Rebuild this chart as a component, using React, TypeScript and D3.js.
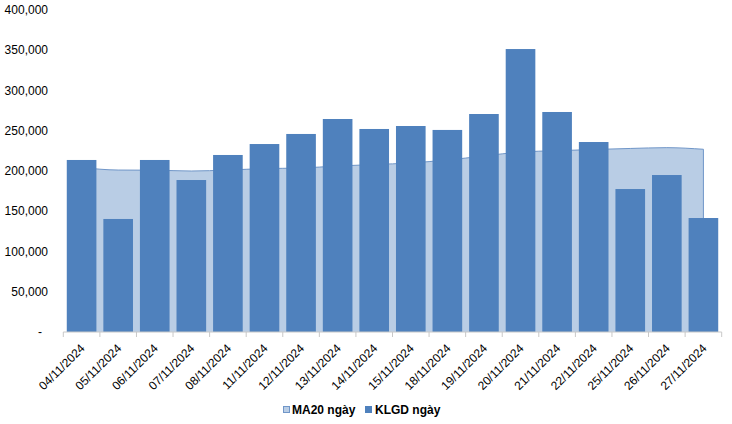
import React, { useEffect } from 'react';
import * as d3 from 'd3';

const width = 732;
const height = 424;
const margin = { top: 10, right: 10.3, bottom: 92, left: 63.3 };
const barBlue = '#4f81bd';
const maFill = '#b9cde5';
const maLine = '#7096c8';

// ngày giao dịch
const dates = [
  '04/11/2024', '05/11/2024', '06/11/2024', '07/11/2024', '08/11/2024', '11/11/2024',
  '12/11/2024', '13/11/2024', '14/11/2024', '15/11/2024', '18/11/2024', '19/11/2024',
  '20/11/2024', '21/11/2024', '22/11/2024', '25/11/2024', '26/11/2024', '27/11/2024',
];
// KLGD ngày
const klgd = [
  213700, 140400, 213700, 188800, 219900, 233500, 246000, 264600, 252200,
  255900, 251000, 270800, 351500, 273300, 236000, 177600, 195000, 141600,
];
// MA20 ngày
const ma20 = [
  204300, 201200, 201000, 200000, 201200, 203000, 203700, 206200, 208000,
  210000, 213700, 218600, 223600, 225200, 226700, 228000, 229000, 227000,
];
const yTicks = [0, 50000, 100000, 150000, 200000, 250000, 300000, 350000, 400000];

export default function App() {
  useEffect(() => {
    document.body.style.margin = '0';
  }, []);

  const x = d3.scaleBand<string>()
    .domain(dates)
    .range([margin.left, width - margin.right])
    .paddingInner(0.19)
    .paddingOuter(0.095);
  const y = d3.scaleLinear().domain([0, 400000]).range([height - margin.bottom, margin.top]);
  const step = x.step();
  const cx = (d: string) => (x(d) as number) + x.bandwidth() / 2;
  const fmt = d3.format(',');

  const area = d3.area<number>()
    .x((_, i) => cx(dates[i]))
    .y0(y(0))
    .y1(d => y(d))
    .curve(d3.curveMonotoneX);
  const line = d3.line<number>()
    .x((_, i) => cx(dates[i]))
    .y(d => y(d))
    .curve(d3.curveMonotoneX);
  const lastX = cx(dates[dates.length - 1]);
  const lastY = y(ma20[ma20.length - 1]);

  const font = 'Liberation Sans, Arial, sans-serif';
  const y0 = y(0);

  return (
    <svg width={width} height={height} style={{ display: 'block' }} fontFamily={font}>
      <rect width={width} height={height} fill="#fff" />
      {/* MA20 */}
      <path d={area(ma20) || ''} fill={maFill} />
      <path d={(line(ma20) || '') + `L${lastX},${y0}`} fill="none" stroke={maLine} strokeWidth={1} />
      {/* KLGD */}
      {klgd.map((v, i) => (
        <rect key={i} x={x(dates[i])} y={y(v)} width={x.bandwidth()} height={y0 - y(v)} fill={barBlue} />
      ))}
      {/* x axis */}
      <line x1={margin.left} x2={width - margin.right} y1={y0} y2={y0} stroke="#c8c8c8" />
      {d3.range(dates.length + 1).map(i => (
        <line key={i} x1={margin.left + i * step} x2={margin.left + i * step} y1={y0} y2={y0 + 5} stroke="#c8c8c8" />
      ))}
      {dates.map(d => (
        <text key={d} transform={`translate(${cx(d) + 4},${y0 + 17}) rotate(-45)`} textAnchor="end" fontSize={12} fill="#000">{d}</text>
      ))}
      {/* y axis labels */}
      {yTicks.map(t => (
        <text key={t} x={t === 0 ? 42 : 48} y={y(t)} dy="0.35em" textAnchor="end" fontSize={12} fill="#000">
          {t === 0 ? '-' : fmt(t)}
        </text>
      ))}
      {/* legend */}
      <g fontSize={12} fontWeight="bold">
        <rect x={283.5} y={406.5} width={6} height={6} fill={maFill} stroke={maLine} />
        <text x={292} y={414}>MA20 ngày</text>
        <rect x={365} y={406} width={7} height={7} fill={barBlue} />
        <text x={375} y={414}>KLGD ngày</text>
      </g>
    </svg>
  );
}
